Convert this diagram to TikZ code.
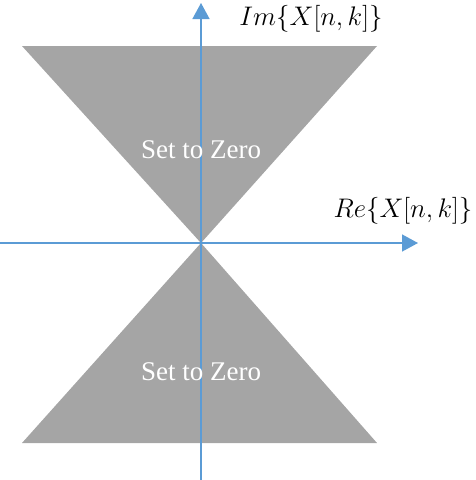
\documentclass[tikz,border=0pt]{standalone}
\usepackage{graphicx}
\usepackage{fontspec}
\setmainfont{Liberation Serif}
\usetikzlibrary{arrows.meta}
\definecolor{zonegray}{HTML}{A5A5A5}
\definecolor{axisblue}{HTML}{5B9BD5}
\tikzset{
  zone/.style={fill=zonegray,draw=none},
  axisline/.style={draw=axisblue,line width=1.5pt,-{Triangle[length=16pt,width=17pt]}},
  zonetext/.style={text=white,font=\fontsize{27}{32}\selectfont,inner sep=0pt},
  axislabel/.style={font=\Huge,inner sep=0pt}
}
\begin{document}
\begin{tikzpicture}[x=1pt,y=-1pt]
\useasboundingbox (0,0) rectangle (476,480);
\coordinate (o) at (201,243);
\fill[zone] (22,46) -- (377,46) -- (o) -- cycle;
\fill[zone] (o) -- (377,443) -- (22,443) -- cycle;
\coordinate (xs) at (0,243);
\coordinate (xe) at (418,243);
\coordinate (ys) at (201,480);
\coordinate (ye) at (201,3);
\draw[axisline] (xs) -- (xe);
\draw[axisline] (ys) -- (ye);
\node[zonetext] (t1) at (201,150) {Set to Zero};
\node[zonetext] (t2) at (201,372) {Set to Zero};
\node[axislabel] (im) at (311,19) {\scalebox{1.08}{$Im\{X[n,k]\}$}};
\node[axislabel] (re) at (403,211) {\scalebox{1.08}{$Re\{X[n,k]\}$}};
\end{tikzpicture}
\end{document}
